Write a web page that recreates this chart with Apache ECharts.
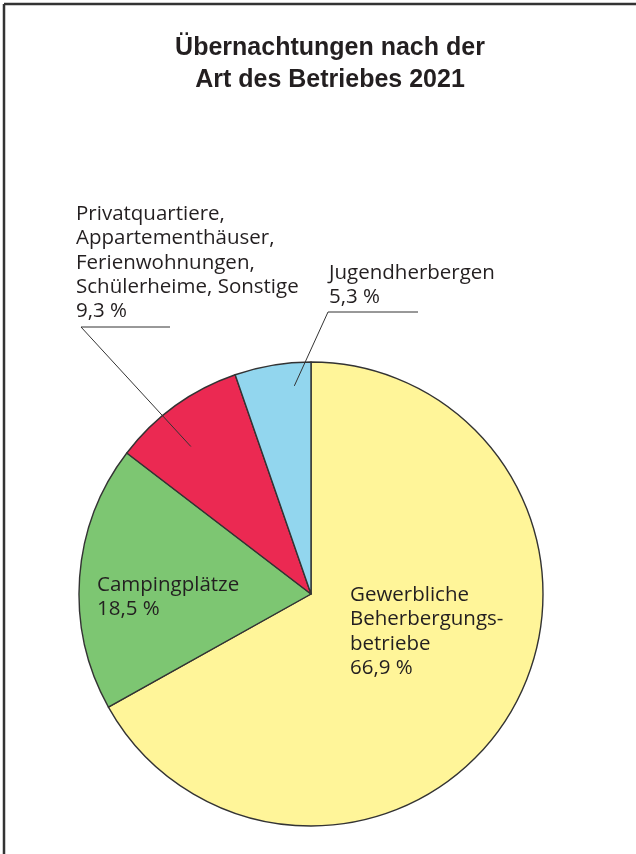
<!DOCTYPE html>
<html>
<head>
<meta charset="utf-8">
<script src="https://cdn.jsdelivr.net/npm/echarts@6/dist/echarts.min.js"></script>
<style>
html, body { margin: 0; padding: 0; background: #fff; }
#pie { width: 636px; height: 854px; }
</style>
</head>
<body>
<div id="pie"></div>
<script>
// Daten
var titleText = 'Übernachtungen nach der\nArt des Betriebes 2021';
var categories = [
    'Gewerbliche\nBeherbergungs-\nbetriebe',
    'Campingplätze',
    'Privatquartiere,\nAppartementhäuser,\nFerienwohnungen,\nSchülerheime, Sonstige',
    'Jugendherbergen'
];
var shares = [66.9, 18.5, 9.3, 5.3];
var shareLabels = ['66,9 %', '18,5 %', '9,3 %', '5,3 %'];
var sliceColors = ['#fff599', '#7dc672', '#eb2952', '#92d6ee'];

// Layout
var center = [311, 594];
var radius = 232;
var labelPos = [[350, 583], [97, 573], [76, 202], [329, 261]];   // left/top der Beschriftung
var underline = [null, null, [81, 170, 327], [328, 418, 312]];  // x1, x2, y
var anchor = [null, null, [0.4, 0.82], [0.76, 0.9]];            // Anteil im Winkel, Anteil im Radius

var total = shares.reduce(function (a, b) { return a + b; }, 0);

function anchorPoint(i) {
    var before = 0;
    for (var k = 0; k < i; k++) before += shares[k];
    var a = (before + shares[i] * anchor[i][0]) / total * Math.PI * 2;
    var r = radius * anchor[i][1];
    return [center[0] + r * Math.sin(a), center[1] - r * Math.cos(a)];
}

var labelFont = {
    fontFamily: 'Open Sans',
    fontSize: 20.5,
    lineHeight: 24.3,
    color: '#231f20',
    formatter: function (p) {
        return p.name + '\n' + shareLabels[p.dataIndex];
    }
};

function placeLabel(p) {
    var i = p.dataIndex;
    var res = { x: labelPos[i][0], y: labelPos[i][1], align: 'left', verticalAlign: 'top' };
    if (underline[i]) {
        var u = underline[i];
        res.labelLinePoints = [anchorPoint(i), [u[0], u[2]], [u[1], u[2]]];
    }
    return res;
}

// Serie 1: Flächen + Beschriftung innen
var pieData = categories.map(function (name, i) {
    return {
        name: name,
        value: shares[i],
        itemStyle: { color: sliceColors[i] },
        label: { show: !underline[i] }
    };
});

// Serie 2: gleiche Geometrie, transparent, nur Beschriftungen mit Linie (liegt darueber)
var leaderData = categories.map(function (name, i) {
    return {
        name: name,
        value: shares[i],
        label: { show: !!underline[i] },
        labelLine: { show: !!underline[i] }
    };
});

var option = {
    animation: false,
    title: {
        text: titleText,
        left: 325,
        top: 27,
        textAlign: 'center',
        textStyle: {
            fontFamily: 'Liberation Sans',
            fontWeight: 'bold',
            fontSize: 25,
            lineHeight: 32,
            color: '#231f20'
        }
    },
    graphic: [
        { type: 'line', shape: { x1: 4, y1: 4, x2: 636, y2: 4 }, style: { stroke: '#333', lineWidth: 2.5 } },
        { type: 'line', shape: { x1: 4, y1: 4, x2: 4, y2: 854 }, style: { stroke: '#333', lineWidth: 2.5 } }
    ],
    series: [
        {
            type: 'pie',
            z: 2,
            center: center,
            radius: radius,
            startAngle: 90,
            clockwise: true,
            avoidLabelOverlap: false,
            emphasis: { disabled: true },
            itemStyle: { borderColor: '#333', borderWidth: 1.4 },
            label: Object.assign({ position: 'inside' }, labelFont),
            labelLine: { show: false },
            labelLayout: placeLabel,
            data: pieData
        },
        {
            type: 'pie',
            z: 3,
            silent: true,
            center: center,
            radius: radius,
            startAngle: 90,
            clockwise: true,
            avoidLabelOverlap: false,
            emphasis: { disabled: true },
            itemStyle: { color: 'rgba(0,0,0,0)', borderWidth: 0 },
            label: Object.assign({ position: 'outside' }, labelFont),
            labelLine: {
                smooth: false,
                lineStyle: { color: '#333', width: 1 }
            },
            labelLayout: placeLabel,
            data: leaderData
        }
    ]
};

var chart = echarts.init(document.getElementById('pie'));
chart.setOption(option);
</script>
</body>
</html>
